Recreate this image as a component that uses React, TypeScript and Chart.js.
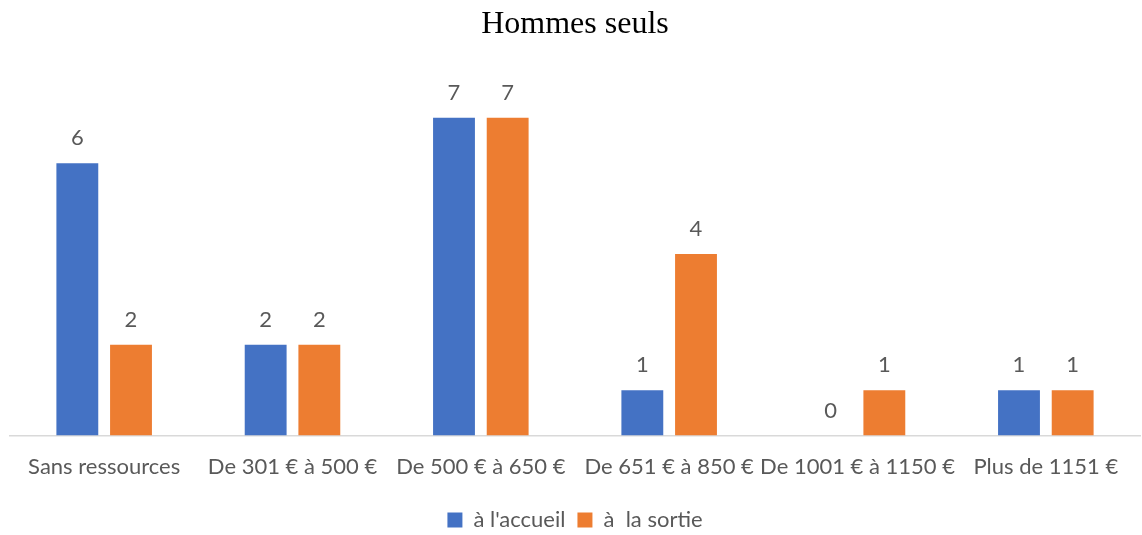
import React, { useEffect, useRef } from "react";
import { Chart, registerables } from "chart.js";

Chart.register(...registerables);

const title = "Hommes seuls";
const categories = [
  "Sans ressources",
  "De 301 € à 500 €",
  "De 500 € à 650 €",
  "De 651 € à 850 €",
  "De 1001 € à 1150 €",
  "Plus de 1151 €",
];
const seriesNames = ["à l'accueil", "à  la sortie"];
const accueil = [6, 2, 7, 1, 0, 1];
const sortie = [2, 2, 7, 4, 1, 1];

const FONT = "Lato, 'Open Sans', sans-serif";
const TEXT = "#595959";

const dataLabels = {
  id: "dataLabels",
  afterDatasetsDraw(chart: any) {
    const ctx = chart.ctx;
    ctx.save();
    ctx.font = `22px ${FONT}`;
    ctx.fillStyle = TEXT;
    ctx.textAlign = "center";
    ctx.textBaseline = "bottom";
    chart.data.datasets.forEach((ds: any, i: number) => {
      const meta = chart.getDatasetMeta(i);
      meta.data.forEach((bar: any, j: number) => {
        ctx.fillText(String(ds.data[j]), bar.x, bar.y - 14);
      });
    });
    ctx.restore();
  },
};

export default function App() {
  const ref = useRef<HTMLCanvasElement>(null);
  useEffect(() => {
    document.body.style.margin = "0";
    const chart = new Chart(ref.current!, {
      type: "bar",
      data: {
        labels: categories,
        datasets: [
          { label: seriesNames[0], data: accueil, backgroundColor: "#4472C4" },
          { label: seriesNames[1], data: sortie, backgroundColor: "#ED7D31" },
        ],
      },
      plugins: [dataLabels],
      options: {
        animation: false,
        responsive: false,
        maintainAspectRatio: false,
        layout: { padding: { left: 10, right: 2, top: 0, bottom: -6 } },
        datasets: {
          bar: { categoryPercentage: 0.57, barPercentage: 0.78 },
        } as any,
        scales: {
          x: {
            grid: { display: false },
            border: { display: true, color: "#D9D9D9", width: 1.5 },
            ticks: {
              color: TEXT,
              font: { family: FONT, size: 22 },
              padding: 10,
              maxRotation: 0,
              autoSkip: false,
            },
            afterFit(scale: any) {
              scale.height += 7;
            },
          },
          y: {
            display: false,
            min: 0,
            max: 8,
          },
        },
        plugins: {
          title: {
            display: true,
            text: title,
            color: "#000",
            font: { family: "'Liberation Serif', serif", size: 32, weight: "normal" },
            padding: { top: 5, bottom: 29 },
          },
          legend: {
            position: "bottom",
            labels: {
              color: TEXT,
              font: { family: FONT, size: 22 },
              boxWidth: 15,
              boxHeight: 15,
              padding: 12,
            },
          },
          tooltip: { enabled: false },
        },
      },
    });
    return () => chart.destroy();
  }, []);
  return (
    <div style={{ position: "absolute", left: 0, top: 0, width: 1142, height: 535, background: "#fff" }}>
      <canvas ref={ref} width={1142} height={535} />
    </div>
  );
}
